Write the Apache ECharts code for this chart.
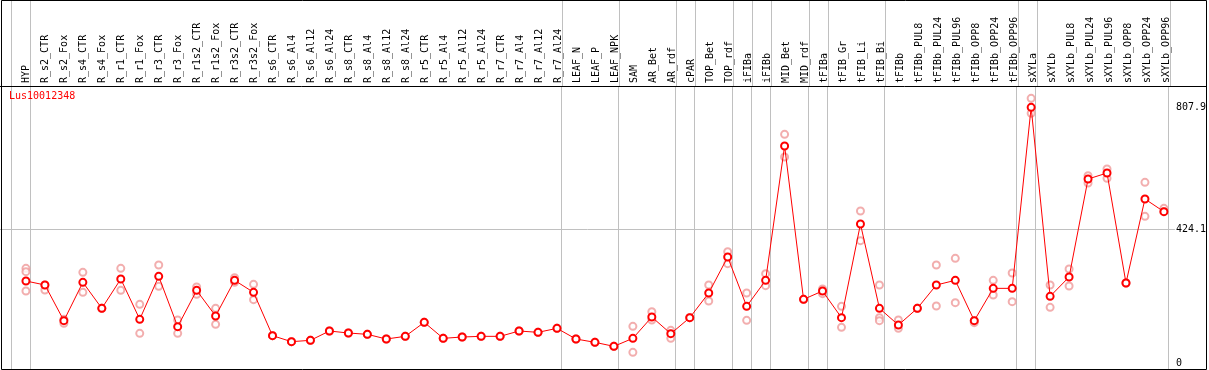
<!DOCTYPE html>
<html><head><meta charset="utf-8">
<script src="https://cdn.jsdelivr.net/npm/echarts@6/dist/echarts.min.js"></script>
<style>html,body{margin:0;padding:0;background:#fff}#c{width:1209px;height:370px}</style>
</head><body><div id="c"></div>
<script>
const title = 'Lus10012348';
const categories = ['HYP','R_s2_CTR','R_s2_Fox','R_s4_CTR','R_s4_Fox','R_r1_CTR','R_r1_Fox','R_r3_CTR','R_r3_Fox','R_r1s2_CTR','R_r1s2_Fox','R_r3s2_CTR','R_r3s2_Fox','R_s6_CTR','R_s6_Al4','R_s6_Al12','R_s6_Al24','R_s8_CTR','R_s8_Al4','R_s8_Al12','R_s8_Al24','R_r5_CTR','R_r5_Al4','R_r5_Al12','R_r5_Al24','R_r7_CTR','R_r7_Al4','R_r7_Al12','R_r7_Al24','LEAF_N','LEAF_P','LEAF_NPK','SAM','AR_Bet','AR_rdf','cPAR','TOP_Bet','TOP_rdf','iFIBa','iFIBb','MID_Bet','MID_rdf','tFIBa','tFIB_Gr','tFIB_Li','tFIB_Bi','tFIBb','tFIBb_PUL8','tFIBb_PUL24','tFIBb_PUL96','tFIBb_OPP8','tFIBb_OPP24','tFIBb_OPP96','sXYLa','sXYLb','sXYLb_PUL8','sXYLb_PUL24','sXYLb_PUL96','sXYLb_OPP8','sXYLb_OPP24','sXYLb_OPP96'];
// group boundaries: last category index of each group (-1 = before first)
const groupEnds = [-1,0,28,31,34,35,37,38,39,41,42,45,52,53,60];
const means = [260.2,247.6,135.1,256.0,174.0,266.5,139.3,274.9,116.2,230.7,149.8,262.3,224.4,87.8,68.9,73.1,102.5,96.2,92.0,77.3,85.7,129.8,79.4,83.6,85.7,85.7,102.5,98.3,110.9,77.3,66.8,54.1,79.4,146.6,94.1,144.5,222.3,335.8,180.3,262.3,685.9,202.4,228.6,144.5,439.9,174.0,121.4,174.0,247.6,262.3,135.1,237.0,237.0,807.9,211.8,272.8,581.8,600.7,253.9,518.8,478.8];
const rep1 = [300.1,247.6,139.3,287.5,174.0,300.1,186.6,310.6,137.2,241.2,174.0,270.7,249.7,87.8,68.9,73.1,102.5,96.2,92.0,77.3,85.7,129.8,79.4,83.6,85.7,85.7,102.5,98.3,110.9,77.3,66.8,54.1,117.2,163.5,104.6,144.5,247.6,352.7,222.3,283.3,722.7,202.4,234.9,180.3,480.9,247.6,137.2,174.0,310.6,331.6,128.8,262.3,285.4,836.2,247.6,298.0,592.3,613.4,253.9,571.3,489.3];
const rep2 = [289.6,231.8,126.7,224.4,174.0,230.7,95.1,243.3,95.1,218.1,123.5,256.0,201.3,87.8,68.9,73.1,102.5,96.2,92.0,77.3,85.7,129.8,79.4,83.6,85.7,85.7,102.5,98.3,110.9,77.3,66.8,54.1,35.2,137.2,79.4,144.5,197.1,314.8,136.1,245.4,651.2,202.4,220.2,114.1,387.4,144.5,110.9,174.0,181.3,191.8,135.1,216.0,195.0,788.9,177.1,244.4,569.2,583.9,253.9,464.1,478.8];
const rep3 = [228.6,null,null,null,null,null,null,null,null,null,null,null,null,null,null,null,null,null,null,null,null,null,null,null,null,null,null,null,null,null,null,null,null,null,null,null,null,null,null,null,null,null,null,null,null,135.1,null,null,null,null,null,null,null,null,null,null,null,null,null,null,null];
const yTickValues = [0, 424.1, 807.9];
const yGridValues = [424.1];

// layout (pixels)
const FONT = 'DejaVu Sans Mono';
const firstX = 26, step = 19, plotRight = 1177, frameRight = 1206, sepY = 86;
const xMin = -firstX / step;
const bounds = groupEnds.map(i => i + 4.5 / step);
const idx = categories.map((_, i) => i);

const repData = [];
[rep1, rep2, rep3].forEach(r => r.forEach((v, i) => { if (v != null) repData.push([i, v]); }));

const chart = echarts.init(document.getElementById('c'), null, {renderer: 'canvas'});
chart.setOption({
  animation: false,
  backgroundColor: '#fff',
  title: {text: title, left: 9, top: 91, padding: 0,
    textStyle: {color: '#ff0000', fontFamily: FONT, fontSize: 10, fontWeight: 'normal'}},
  grid: [
    {left: 0, width: frameRight, top: 0, height: sepY},
    {left: 0, width: plotRight, top: sepY, bottom: 1}
  ],
  xAxis: [
    {type: 'value', gridIndex: 0, min: xMin, max: (frameRight - firstX) / step, position: 'bottom',
      axisLine: {show: true, lineStyle: {color: '#000', width: 1}},
      axisTick: {show: false, customValues: bounds},
      splitLine: {show: true, lineStyle: {color: '#c0c0c0', width: 1}},
      axisLabel: {customValues: idx, formatter: v => categories[Math.round(v)], inside: true, rotate: 90,
        margin: 3, fontFamily: FONT, fontSize: 10, color: '#000', hideOverlap: false}},
    {type: 'value', gridIndex: 1, min: xMin, max: (plotRight - firstX) / step,
      axisLine: {show: false}, axisLabel: {show: false},
      axisTick: {show: false, customValues: bounds},
      splitLine: {show: true, lineStyle: {color: '#c0c0c0', width: 1}}}
  ],
  yAxis: [
    {type: 'value', gridIndex: 0, min: 0, max: 1, show: false},
    {type: 'value', gridIndex: 1, position: 'right', min: -17.3, max: 875.1,
      axisLine: {show: false},
      axisTick: {show: false, customValues: yGridValues},
      splitLine: {show: true, lineStyle: {color: '#c0c0c0', width: 1}},
      axisLabel: {customValues: yTickValues, formatter: v => String(v), margin: 1,
        fontFamily: FONT, fontSize: 10, color: '#000'}}
  ],
  series: [
    {type: 'scatter', xAxisIndex: 1, yAxisIndex: 1, data: repData, z: 2,
      symbol: 'emptyCircle', symbolSize: 7,
      itemStyle: {color: '#ef9a9a', borderColor: '#ec9898', borderWidth: 1.2}},
    {type: 'line', xAxisIndex: 1, yAxisIndex: 1, data: means.map((v, i) => [i, v]), z: 3,
      symbol: 'emptyCircle', symbolSize: 7, showAllSymbol: true,
      lineStyle: {color: '#ff0000', width: 1},
      itemStyle: {color: '#ff0000', borderColor: '#ff0000', borderWidth: 1.8}}
  ],
  graphic: [
    {type: 'rect', silent: true, z: 100,
      shape: {x: 1.5, y: 0.5, width: frameRight - 1, height: 369},
      style: {fill: 'none', stroke: '#000', lineWidth: 1}}
  ]
});
</script>
</body></html>
